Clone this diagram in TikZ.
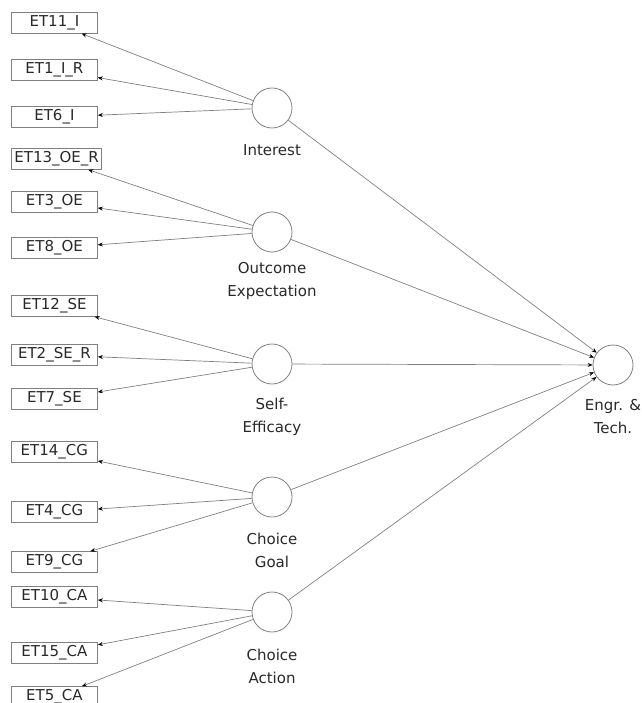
\documentclass[tikz,border=0pt]{standalone}
\usepackage{fontspec}
\setmainfont{DejaVu Sans}
\usetikzlibrary{arrows.meta, positioning}
\definecolor{linegray}{RGB}{128,128,128}
\definecolor{textgray}{RGB}{40,40,40}
\tikzstyle{indicator} = [draw=linegray, rectangle, anchor=west, line width=0.8pt,
    minimum height=20pt, minimum width=86pt, inner sep=3pt, text=textgray]
\tikzstyle{factor} = [draw=linegray, circle, line width=0.8pt,
    minimum size=40pt, inner sep=0pt]
\tikzstyle{factorlabel} = [align=center, text=textgray]
\tikzstyle{loading} = [linegray, line width=0.7pt,
    -{Stealth[length=5pt,width=4pt,color=black]}]

\begin{document}
\begin{tikzpicture}[x=1pt, y=-1pt, font=\fontsize{15}{23}\selectfont]

    \useasboundingbox (0,0) rectangle (641,703);

    % Factors
    \node (int) [factor] at (272,108) {};
    \node (oe) [factor] at (272,232) {};
    \node (se) [factor] at (272,364) {};
    \node (cg) [factor] at (272,497) {};
    \node (ca) [factor] at (272,612) {};
    \node (engr) [factor] at (613,365) {};

    % Labels
    \node (intlabel) [factorlabel] at (272,150) {Interest};
    \node (oelabel) [factorlabel] at (272,281) {Outcome\\Expectation};
    \node (selabel) [factorlabel] at (272,417) {Self-\\Efficacy};
    \node (cglabel) [factorlabel] at (272,550) {Choice\\Goal};
    \node (calabel) [factorlabel] at (272,666) {Choice\\Action};
    \node (engrlabel) [factorlabel] at (613,417) {Engr. \&\\Tech.};

    % Items
    \node (et11) [indicator] at (11,23) {ET11\_I};
    \node (et1) [indicator] at (11,70) {ET1\_I\_R};
    \node (et6) [indicator] at (11,117) {ET6\_I};
    \node (et13) [indicator] at (11,159) {ET13\_OE\_R};
    \node (et3) [indicator] at (11,202) {ET3\_OE};
    \node (et8) [indicator] at (11,248) {ET8\_OE};
    \node (et12) [indicator] at (11,306) {ET12\_SE};
    \node (et2) [indicator] at (11,355) {ET2\_SE\_R};
    \node (et7) [indicator] at (11,399) {ET7\_SE};
    \node (et14) [indicator] at (11,452) {ET14\_CG};
    \node (et4) [indicator] at (11,512) {ET4\_CG};
    \node (et9) [indicator] at (11,562) {ET9\_CG};
    \node (et10) [indicator] at (11,597) {ET10\_CA};
    \node (et15) [indicator] at (11,653) {ET15\_CA};
    \node (et5) [indicator] at (11,697) {ET5\_CA};

    % Loadings
    \draw [loading] (int) -- (et11);
    \draw [loading] (int) -- (et1);
    \draw [loading] (int) -- (et6);
    \draw [loading] (oe) -- (et13);
    \draw [loading] (oe) -- (et3);
    \draw [loading] (oe) -- (et8);
    \draw [loading] (se) -- (et12);
    \draw [loading] (se) -- (et2);
    \draw [loading] (se) -- (et7);
    \draw [loading] (cg) -- (et14);
    \draw [loading] (cg) -- (et4);
    \draw [loading] (cg) -- (et9);
    \draw [loading] (ca) -- (et10);
    \draw [loading] (ca) -- (et15);
    \draw [loading] (ca) -- (et5);

    % Paths
    \draw [loading] (int) -- (engr);
    \draw [loading] (oe) -- (engr);
    \draw [loading] (se) -- (engr);
    \draw [loading] (cg) -- (engr);
    \draw [loading] (ca) -- (engr);

\end{tikzpicture}
\end{document}
